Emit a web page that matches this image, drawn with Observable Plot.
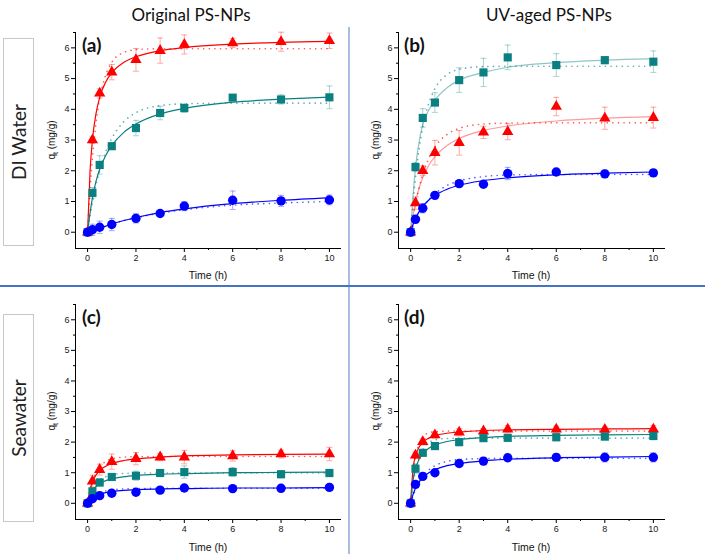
<!DOCTYPE html>
<html>
<head>
<meta charset="utf-8">
<script src="https://cdn.jsdelivr.net/npm/d3@7"></script>
<script src="https://cdn.jsdelivr.net/npm/@observablehq/plot@0.6"></script>
<style>
  body { margin: 0; background: #fff; }
  #root { position: relative; width: 705px; height: 554px; overflow: hidden; font-family: "Liberation Sans", Arial, sans-serif; }
  #root svg { position: absolute; left: 0; top: 0; }
  .t { position: absolute; white-space: nowrap; color: #111; }
  .title { font-family: Lato, "Open Sans", sans-serif; font-size: 17px; transform: translate(-50%, -50%); }
  .plab { font-family: Lato, "Open Sans", sans-serif; font-weight: bold; font-size: 19px; }
  .xl { font-size: 10.5px; transform: translate(-50%, -50%); }
  .yl { font-size: 10px; transform: translate(-50%, -50%) rotate(-90deg); }
  .yl sub { font-size: 7px; }
  .box { position: absolute; border: 1px solid #c8c8c8; box-sizing: border-box; }
  .rowlab { font-family: Lato, "Open Sans", sans-serif; font-size: 19px; transform: translate(-50%, -50%) rotate(-90deg); color: #222; }
</style>
</head>
<body>
<div id="root"></div>
<script>
// ---- Data ----
const times = [0, 0.2, 0.5, 1, 2, 3, 4, 6, 8, 10];
const fitTimes = [0, 0.1, 0.2, 0.35, 0.5, 0.75, 1, 1.5, 2, 3, 4, 6, 8, 10];
const xTicks = [0, 2, 4, 6, 8, 10];
const xMinor = [1, 3, 5, 7, 9];
const yTicks = [0, 1, 2, 3, 4, 5, 6];
const yMinor = [0.5, 1.5, 2.5, 3.5, 4.5, 5.5, 6.5];
const columnTitles = ["Original PS-NPs", "UV-aged PS-NPs"];
const rowTitles = ["DI Water", "Seawater"];
const panelLabels = ["(a)", "(b)", "(c)", "(d)"];
const xLabel = "Time (h)";

// Panel (a)
const aRed = [0, 3.0, 4.52, 5.21, 5.61, 5.91, 6.11, 6.16, 6.2, 6.23];
const aRedErr = [0, 0.1, 0.15, 0.25, 0.37, 0.41, 0.31, 0.15, 0.31, 0.25];
const aTeal = [0, 1.28, 2.19, 2.8, 3.39, 3.88, 4.04, 4.38, 4.32, 4.39];
const aTealErr = [0, 0.17, 0.3, 0.1, 0.25, 0.22, 0.14, 0.08, 0.15, 0.37];
const aBlue = [0, 0.08, 0.16, 0.25, 0.45, 0.61, 0.85, 1.04, 1.02, 1.05];
const aBlueErr = [0, 0.18, 0.2, 0.2, 0.15, 0.08, 0.15, 0.3, 0.18, 0.16];
const aRedSolid = [0, 1.96, 3.0, 3.87, 4.39, 4.89, 5.19, 5.53, 5.71, 5.91, 6.01, 6.12, 6.18, 6.21];
const aRedDotted = [0, 1.37, 2.42, 3.57, 4.34, 5.12, 5.53, 5.85, 5.94, 5.97, 5.97, 5.97, 5.97, 5.97];
const aTealSolid = [0, 0.62, 1.12, 1.66, 2.05, 2.5, 2.82, 3.25, 3.52, 3.85, 4.03, 4.23, 4.33, 4.4];
const aTealDotted = [0, 0.51, 0.96, 1.54, 2.01, 2.62, 3.05, 3.6, 3.89, 4.12, 4.18, 4.2, 4.2, 4.2];
const aBlueSolid = [0, 0.03, 0.06, 0.1, 0.14, 0.2, 0.27, 0.38, 0.48, 0.64, 0.76, 0.93, 1.04, 1.12];
const aBlueDotted = [0, 0.03, 0.06, 0.105, 0.15, 0.21, 0.27, 0.38, 0.47, 0.62, 0.73, 0.88, 0.95, 1.0];

// Panel (b)
const bRed = [0, 0.95, 2.0, 2.59, 2.91, 3.25, 3.27, 4.09, 3.71, 3.73];
const bRedErr = [0, 0.2, 0.16, 0.4, 0.4, 0.2, 0.26, 0.3, 0.36, 0.34];
const bTeal = [0, 2.12, 3.72, 4.22, 4.95, 5.2, 5.69, 5.44, 5.6, 5.55];
const bTealErr = [0, 0.15, 0.3, 0.32, 0.4, 0.46, 0.4, 0.37, 0.12, 0.35];
const bBlue = [0, 0.42, 0.78, 1.2, 1.58, 1.56, 1.91, 1.96, 1.9, 1.93];
const bBlueErr = [0, 0.08, 0.15, 0.08, 0.1, 0.08, 0.2, 0.1, 0.12, 0.1];
const bRedSolid = [0, 0.55, 0.97, 1.44, 1.78, 2.18, 2.46, 2.82, 3.05, 3.31, 3.46, 3.62, 3.71, 3.76];
const bRedDotted = [0, 0.5, 0.92, 1.45, 1.88, 2.4, 2.77, 3.18, 3.38, 3.52, 3.55, 3.56, 3.56, 3.56];
const bTealSolid = [0, 1.2, 2.1, 2.95, 3.5, 3.98, 4.3, 4.7, 4.95, 5.2, 5.37, 5.52, 5.6, 5.65];
const bTealDotted = [0, 0.98, 1.78, 2.72, 3.41, 4.2, 4.67, 5.13, 5.3, 5.39, 5.4, 5.4, 5.4, 5.4];
const bBlueSolid = [0, 0.25, 0.44, 0.67, 0.84, 1.05, 1.2, 1.4, 1.53, 1.68, 1.77, 1.87, 1.92, 1.96];
const bBlueDotted = [0, 0.2, 0.37, 0.6, 0.8, 1.06, 1.25, 1.52, 1.67, 1.81, 1.86, 1.88, 1.88, 1.88];

// Panel (c)
const cRed = [0, 0.72, 1.1, 1.36, 1.46, 1.51, 1.51, 1.55, 1.61, 1.61];
const cRedErr = [0, 0.2, 0.18, 0.25, 0.2, 0.12, 0.22, 0.17, 0.13, 0.22];
const cTeal = [0, 0.39, 0.68, 0.86, 0.9, 0.99, 1.02, 1.02, 0.95, 0.99];
const cTealErr = [0, 0.1, 0.12, 0.08, 0.15, 0.1, 0.2, 0.15, 0.12, 0.12];
const cBlue = [0, 0.15, 0.25, 0.33, 0.36, 0.43, 0.5, 0.48, 0.49, 0.52];
const cBlueErr = [0, 0.05, 0.05, 0.05, 0.05, 0.05, 0.05, 0.05, 0.05, 0.05];
const cRedSolid = [0, 0.45, 0.7, 0.93, 1.07, 1.21, 1.3, 1.4, 1.45, 1.51, 1.55, 1.58, 1.6, 1.61];
const cRedDotted = [0, 0.4, 0.69, 0.99, 1.19, 1.37, 1.45, 1.51, 1.525, 1.53, 1.53, 1.53, 1.53, 1.53];
const cTealSolid = [0, 0.25, 0.41, 0.55, 0.65, 0.74, 0.8, 0.87, 0.91, 0.95, 0.97, 1.0, 1.01, 1.02];
const cTealDotted = [0, 0.24, 0.42, 0.62, 0.75, 0.87, 0.93, 0.975, 0.986, 0.99, 0.99, 0.99, 0.99, 0.99];
const cBlueSolid = [0, 0.11, 0.18, 0.25, 0.29, 0.35, 0.38, 0.42, 0.44, 0.47, 0.48, 0.5, 0.5, 0.51];
const cBlueDotted = [0, 0.1, 0.17, 0.26, 0.33, 0.4, 0.44, 0.47, 0.48, 0.49, 0.49, 0.49, 0.49, 0.49];

// Panel (d)
const dRed = [0, 1.57, 2.01, 2.23, 2.32, 2.36, 2.42, 2.42, 2.41, 2.42];
const dRedErr = [0, 0.1, 0.1, 0.1, 0.12, 0.08, 0.12, 0.1, 0.08, 0.12];
const dTeal = [0, 1.13, 1.65, 1.87, 2.0, 2.13, 2.14, 2.16, 2.18, 2.2];
const dTealErr = [0, 0.15, 0.1, 0.1, 0.12, 0.1, 0.1, 0.12, 0.1, 0.12];
const dBlue = [0, 0.62, 0.88, 1.0, 1.3, 1.38, 1.49, 1.5, 1.5, 1.5];
const dBlueErr = [0, 0.08, 0.08, 0.08, 0.1, 0.12, 0.12, 0.12, 0.15, 0.15];
const dRedSolid = [0, 1.13, 1.55, 1.84, 2.0, 2.13, 2.21, 2.29, 2.33, 2.38, 2.4, 2.42, 2.43, 2.44];
const dRedDotted = [0, 0.93, 1.49, 1.95, 2.17, 2.3, 2.34, 2.36, 2.36, 2.36, 2.36, 2.36, 2.36, 2.36];
const dTealSolid = [0, 0.75, 1.13, 1.44, 1.62, 1.8, 1.9, 2.02, 2.08, 2.15, 2.19, 2.22, 2.24, 2.25];
const dTealDotted = [0, 0.63, 1.07, 1.5, 1.76, 1.98, 2.07, 2.12, 2.13, 2.13, 2.13, 2.13, 2.13, 2.13];
const dBlueSolid = [0, 0.29, 0.49, 0.7, 0.84, 1.0, 1.1, 1.23, 1.3, 1.39, 1.44, 1.49, 1.51, 1.53];
const dBlueDotted = [0, 0.24, 0.44, 0.69, 0.87, 1.09, 1.23, 1.37, 1.43, 1.46, 1.47, 1.47, 1.47, 1.47];

// ---- Styling ----
const COLORS = {red: "#ff0000", teal: "#0a8080", blue: "#0000ff"};
const SYMBOLS = {red: "triangle", teal: "square", blue: "circle"};
const RADIUS = {red: 4.2, teal: 4.6, blue: 4.7};

const panels = [
  {id: "a", mL: 75, mR: 364, mT: 32, mB: 306,
   series: [
     {k: "red", q: aRed, e: aRedErr, solid: aRedSolid, dotted: aRedDotted, solidOp: 1},
     {k: "teal", q: aTeal, e: aTealErr, solid: aTealSolid, dotted: aTealDotted, solidOp: 1},
     {k: "blue", q: aBlue, e: aBlueErr, solid: aBlueSolid, dotted: aBlueDotted, solidOp: 1}]},
  {id: "b", mL: 398, mR: 40, mT: 32, mB: 306,
   series: [
     {k: "red", q: bRed, e: bRedErr, solid: bRedSolid, dotted: bRedDotted, solidOp: 0.4},
     {k: "teal", q: bTeal, e: bTealErr, solid: bTealSolid, dotted: bTealDotted, solidOp: 0.45},
     {k: "blue", q: bBlue, e: bBlueErr, solid: bBlueSolid, dotted: bBlueDotted, solidOp: 1}]},
  {id: "c", mL: 75, mR: 364, mT: 304, mB: 35,
   series: [
     {k: "red", q: cRed, e: cRedErr, solid: cRedSolid, dotted: cRedDotted, solidOp: 1},
     {k: "teal", q: cTeal, e: cTealErr, solid: cTealSolid, dotted: cTealDotted, solidOp: 1},
     {k: "blue", q: cBlue, e: cBlueErr, solid: cBlueSolid, dotted: cBlueDotted, solidOp: 1}]},
  {id: "d", mL: 398, mR: 40, mT: 304, mB: 35,
   series: [
     {k: "red", q: dRed, e: dRedErr, solid: dRedSolid, dotted: dRedDotted, solidOp: 1},
     {k: "teal", q: dTeal, e: dTealErr, solid: dTealSolid, dotted: dTealDotted, solidOp: 1},
     {k: "blue", q: dBlue, e: dBlueErr, solid: dBlueSolid, dotted: dBlueDotted, solidOp: 1}]}
];

const capSymbol = {draw(ctx) { ctx.moveTo(-3, 0); ctx.lineTo(3, 0); }};
const X0 = -0.5, Y0 = -0.53;
const root = document.getElementById("root");

for (const p of panels) {
  const marks = [
    Plot.ruleX([X0], {stroke: "#000", strokeWidth: 1}),
    Plot.ruleY([Y0], {stroke: "#000", strokeWidth: 1}),
    Plot.axisX(xTicks, {tickSize: 4, tickPadding: 2, fontSize: 9, label: null, stroke: "#000", color: "#222"}),
    Plot.axisX(xMinor, {tickSize: 2, tickFormat: () => "", label: null, stroke: "#000"}),
    Plot.axisY(yTicks, {tickSize: 4, tickPadding: 2, fontSize: 9, label: null, stroke: "#000", color: "#222"}),
    Plot.axisY(yMinor, {tickSize: 2, tickFormat: () => "", label: null, stroke: "#000"})
  ];
  for (const s of p.series) {
    const c = COLORS[s.k];
    const fitS = fitTimes.map((t, i) => ({t, q: s.solid[i]}));
    const fitD = fitTimes.map((t, i) => ({t, q: s.dotted[i]}));
    marks.push(Plot.line(fitD, {x: "t", y: "q", stroke: c, strokeOpacity: 0.65, strokeWidth: 1.6, strokeDasharray: "0.1 5.5", strokeLinecap: "round", curve: "monotone-x"}));
    marks.push(Plot.line(fitS, {x: "t", y: "q", stroke: c, strokeOpacity: s.solidOp, strokeWidth: 1.2, curve: "monotone-x"}));
  }
  for (const s of p.series) {
    const c = COLORS[s.k];
    const pts = times.map((t, i) => ({t, q: s.q[i], e: s.e[i]}));
    const errPts = pts.filter(d => d.e > 0);
    marks.push(Plot.ruleX(errPts, {x: "t", y1: d => d.q - d.e, y2: d => d.q + d.e, stroke: c, strokeOpacity: 0.35, strokeWidth: 1}));
    marks.push(Plot.dot(errPts, {x: "t", y: d => d.q + d.e, symbol: capSymbol, stroke: c, strokeOpacity: 0.35, strokeWidth: 1, fill: "none"}));
    marks.push(Plot.dot(errPts, {x: "t", y: d => d.q - d.e, symbol: capSymbol, stroke: c, strokeOpacity: 0.35, strokeWidth: 1, fill: "none"}));
    marks.push(Plot.dot(pts, {x: "t", y: "q", symbol: SYMBOLS[s.k], r: RADIUS[s.k], fill: c, stroke: "none"}));
  }
  const svg = Plot.plot({
    width: 705, height: 554,
    marginLeft: p.mL, marginRight: p.mR, marginTop: p.mT, marginBottom: p.mB,
    x: {domain: [X0, 10.5]},
    y: {domain: [Y0, 6.5]},
    style: {background: "transparent", overflow: "visible", fontFamily: "'Liberation Sans', Arial, sans-serif"},
    marks
  });
  root.appendChild(svg);
}

// ---- Text and decorations ----
function addDiv(cls, html, x, y, extra) {
  const d = document.createElement("div");
  d.className = cls;
  d.innerHTML = html;
  d.style.left = x + "px";
  d.style.top = y + "px";
  if (extra) Object.assign(d.style, extra);
  root.appendChild(d);
  return d;
}
function addLine(x, y, w, h, color) {
  const d = document.createElement("div");
  Object.assign(d.style, {position: "absolute", left: x + "px", top: y + "px", width: w + "px", height: h + "px", background: color});
  root.appendChild(d);
}

addLine(348, 27, 1.5, 527, "#a9bde2");
addLine(0, 285, 705, 1.8, "#4472c4");

addDiv("t title", columnTitles[0], 191, 14);
addDiv("t title", columnTitles[1], 549, 14);

// row boxes
const b1 = document.createElement("div"); b1.className = "box";
Object.assign(b1.style, {left: "3px", top: "38px", width: "31px", height: "208px"}); root.appendChild(b1);
const b2 = document.createElement("div"); b2.className = "box";
Object.assign(b2.style, {left: "3px", top: "314px", width: "31px", height: "208px"}); root.appendChild(b2);
addDiv("t rowlab", rowTitles[0], 18, 142);
addDiv("t rowlab", rowTitles[1], 18, 418);

// panel letters
addDiv("t plab", panelLabels[0], 82, 33);
addDiv("t plab", panelLabels[1], 404, 33);
addDiv("t plab", panelLabels[2], 82, 305);
addDiv("t plab", panelLabels[3], 404, 305);

// axis titles
const yLab = "q<sub>t</sub> (mg/g)";
addDiv("t yl", yLab, 52, 140);
addDiv("t yl", yLab, 376, 140);
addDiv("t yl", yLab, 52, 411);
addDiv("t yl", yLab, 376, 411);
addDiv("t xl", xLabel, 208, 275);
addDiv("t xl", xLabel, 531, 275);
addDiv("t xl", xLabel, 208, 547);
addDiv("t xl", xLabel, 531, 547);
</script>
</body>
</html>
